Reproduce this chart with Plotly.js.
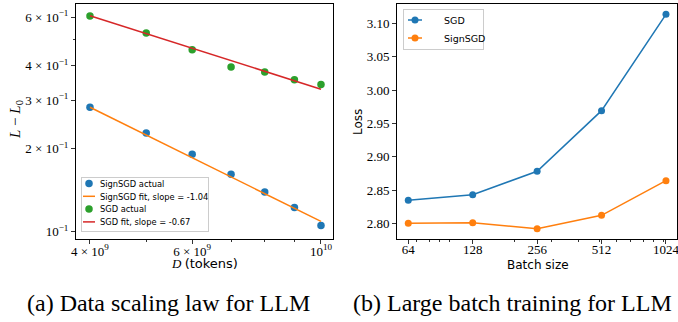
<!DOCTYPE html>
<html>
<head>
<meta charset="utf-8">
<script src="https://cdn.plot.ly/plotly-3.0.1.min.js"></script>
<style>html,body{margin:0;padding:0;background:#fff;}#chart{width:678px;height:322px;}</style>
</head>
<body>
<div id="chart"></div>
<script>
// ---- data: (a) data scaling law ----
const tokens = [4e9, 5e9, 6e9, 7e9, 8e9, 9e9, 1e10];
const signsgdActual = [0.283, 0.228, 0.191, 0.1616, 0.1393, 0.1223, 0.1054];
const sgdActual = [0.607, 0.526, 0.458, 0.396, 0.380, 0.356, 0.342];
const fitTokens = [4e9, 1e10];
const signsgdFit = [0.283, 0.109];
const sgdFit = [0.608, 0.329];
const tokTickVals = [4e9, 6e9, 1e10];
const tokTickText = ["4 × 10<sup>9</sup>", "6 × 10<sup>9</sup>", "10<sup>10</sup>"];
const tokMinor = [5e9, 7e9, 8e9, 9e9];
const lossTickVals = [0.1, 0.2, 0.3, 0.4, 0.6];
const lossTickText = ["10<sup>−1</sup>", "2 × 10<sup>−1</sup>", "3 × 10<sup>−1</sup>", "4 × 10<sup>−1</sup>", "6 × 10<sup>−1</sup>"];
const lossMinor = [0.5];

// ---- data: (b) large batch training ----
const batch = [64, 128, 256, 512, 1024];
const sgdLoss = [2.8345, 2.843, 2.878, 2.969, 3.1135];
const signsgdLoss = [2.800, 2.801, 2.792, 2.812, 2.864];
const batchTickText = ["64", "128", "256", "512", "1024"];
const batchMinor = [70, 80, 90, 100, 200, 300, 400, 500, 600, 700, 800, 900, 1000];
const batchLossTicks = [2.80, 2.85, 2.90, 2.95, 3.00, 3.05, 3.10];

const W = 678, H = 322;
const px = x => x / W;
const py = y => 1 - y / H;

const BLUE = '#1f77b4', ORANGE = '#ff7f0e', GREEN = '#2ca02c', RED = '#d62728';
const SERIF = 'Liberation Serif, Times New Roman, serif';
const SANS = 'DejaVu Sans, sans-serif';

const traces = [
  {x: tokens, y: signsgdActual, mode: 'markers', name: 'SignSGD actual',
   marker: {color: BLUE, size: 7.5}, xaxis: 'x', yaxis: 'y', legend: 'legend'},
  {x: fitTokens, y: signsgdFit, mode: 'lines', name: 'SignSGD fit, slope = -1.04',
   line: {color: ORANGE, width: 1.5}, xaxis: 'x', yaxis: 'y', legend: 'legend'},
  {x: tokens, y: sgdActual, mode: 'markers', name: 'SGD actual',
   marker: {color: GREEN, size: 7.5}, xaxis: 'x', yaxis: 'y', legend: 'legend'},
  {x: fitTokens, y: sgdFit, mode: 'lines', name: 'SGD fit, slope = -0.67',
   line: {color: RED, width: 1.5}, xaxis: 'x', yaxis: 'y', legend: 'legend'},
  {x: batch, y: sgdLoss, mode: 'lines+markers', name: 'SGD',
   line: {color: BLUE, width: 1.5}, marker: {color: BLUE, size: 7},
   xaxis: 'x2', yaxis: 'y2', legend: 'legend2'},
  {x: batch, y: signsgdLoss, mode: 'lines+markers', name: 'SignSGD',
   line: {color: ORANGE, width: 1.5}, marker: {color: ORANGE, size: 7},
   xaxis: 'x2', yaxis: 'y2', legend: 'legend2'}
];

const axisCommon = {
  showgrid: false, zeroline: false, showline: true, mirror: true,
  linecolor: '#000', linewidth: 1, ticks: 'outside', ticklen: 4, tickwidth: 0.8,
  tickcolor: '#000', tickfont: {family: SERIF, size: 13, color: '#000'},
  ticklabeloverflow: 'allow'
};

const layout = {
  width: W, height: H,
  margin: {l: 0, r: 0, t: 0, b: 0},
  paper_bgcolor: '#fff', plot_bgcolor: '#fff',
  showlegend: true,
  xaxis: Object.assign({}, axisCommon, {
    domain: [px(76), px(333)], anchor: 'y', type: 'log',
    range: [9.578, 10.0207], ticklabelstandoff: -4,
    tickmode: 'array', tickvals: tokTickVals, ticktext: tokTickText,
    minor: {tickmode: 'array', tickvals: tokMinor, ticklen: 2, ticks: 'outside', tickcolor: '#000'}
  }),
  yaxis: Object.assign({}, axisCommon, {
    domain: [py(239), py(4)], anchor: 'x', type: 'log',
    range: [-1.0265, -0.1735],
    tickmode: 'array', tickvals: lossTickVals, ticktext: lossTickText,
    minor: {tickmode: 'array', tickvals: lossMinor, ticklen: 2, ticks: 'outside', tickcolor: '#000'}
  }),
  xaxis2: Object.assign({}, axisCommon, {
    domain: [px(397), px(677)], anchor: 'y2', type: 'log',
    range: [1.7535, 3.0618], ticklabelstandoff: -6,
    tickmode: 'array', tickvals: batch, ticktext: batchTickText,
    minor: {tickmode: 'array', tickvals: batchMinor, ticklen: 2, ticks: 'outside', tickcolor: '#000'}
  }),
  yaxis2: Object.assign({}, axisCommon, {
    domain: [py(239), py(4)], anchor: 'x2',
    range: [2.7765, 3.129],
    tickmode: 'array', tickvals: batchLossTicks,
    ticktext: batchLossTicks.map(v => v.toFixed(2))
  }),
  legend: {
    x: px(81), y: py(177), xanchor: 'left', yanchor: 'top',
    bgcolor: 'rgba(255,255,255,0.8)', bordercolor: '#cccccc', borderwidth: 1,
    font: {family: SANS, size: 8.3, color: '#000'}
  },
  legend2: {
    x: px(403), y: py(9), xanchor: 'left', yanchor: 'top',
    bgcolor: 'rgba(255,255,255,0.8)', bordercolor: '#cccccc', borderwidth: 1,
    font: {family: SANS, size: 9.5, color: '#000'}
  },
  annotations: [
    {text: '<i>L</i> − <i>L</i><sub>0</sub>', x: px(16), y: py(120), xref: 'paper', yref: 'paper',
     xanchor: 'center', yanchor: 'middle',
     showarrow: false, textangle: -90, font: {family: SERIF, size: 15, color: '#000'}},
    {text: '<i>D</i> <span style="font-family:DejaVu Sans">(tokens)</span>', x: px(204), y: py(263), xref: 'paper', yref: 'paper',
     xanchor: 'center', yanchor: 'middle',
     showarrow: false, font: {family: SERIF, size: 13, color: '#000'}},
    {text: 'Loss', x: px(358), y: py(122), xref: 'paper', yref: 'paper',
     xanchor: 'center', yanchor: 'middle',
     showarrow: false, textangle: -90, font: {family: SANS, size: 12, color: '#000'}},
    {text: 'Batch size', x: px(538), y: py(265), xref: 'paper', yref: 'paper',
     xanchor: 'center', yanchor: 'middle',
     showarrow: false, font: {family: SANS, size: 12, color: '#000'}},
    {text: '(a) Data scaling law for LLM', x: px(168), y: py(303), xref: 'paper', yref: 'paper',
     xanchor: 'center', yanchor: 'middle',
     showarrow: false, font: {family: SERIF, size: 24, color: '#000'}},
    {text: '(b) Large batch training for LLM', x: px(512), y: py(303), xref: 'paper', yref: 'paper',
     xanchor: 'center', yanchor: 'middle',
     showarrow: false, font: {family: SERIF, size: 24, color: '#000'}}
  ]
};

// compact (matplotlib-like) legend geometry, keyed by legend id
const legendSpecs = {
  legend:  {left: 81,  top: 177, width: 127, height: 54, first: 6.5, step: 12.8, symX: 7,  lineLen: 12, textX: 18},
  legend2: {left: 403, top: 9,   width: 80,  height: 40, first: 11,  step: 18,   symX: 11, lineLen: 14, textX: 28}
};

function compactOne(lg, o) {
  lg.setAttribute('transform', `translate(${o.left},${o.top})`);
  const bg = lg.querySelector(':scope > rect.bg');
  if (bg) { bg.setAttribute('width', o.width); bg.setAttribute('height', o.height); }
  const sb = lg.querySelector(':scope > g.scrollbox');
  if (sb) sb.setAttribute('transform', 'translate(0,0)');
  lg.querySelectorAll('g.traces').forEach((it, i) => {
    it.setAttribute('transform', `translate(1,${o.first + i * o.step})`);
    const t = it.querySelector('text.legendtext');
    if (t) {
      t.setAttribute('x', o.textX);
      t.querySelectorAll('tspan').forEach(s => { if (s.hasAttribute('x')) s.setAttribute('x', o.textX); });
    }
    it.querySelectorAll('g.legendlines path').forEach(p => {
      p.setAttribute('d', `M${o.symX - o.lineLen / 2},0h${o.lineLen}`);
    });
    it.querySelectorAll('g.legendpoints path').forEach(p => {
      p.setAttribute('transform', `translate(${o.symX},0)`);
    });
  });
}

function compactLegends() {
  const gd = document.getElementById('chart');
  gd.querySelectorAll('rect.bg').forEach(bg => {
    const lg = bg.parentNode;
    const cls = (lg.getAttribute('class') || '').trim();
    const o = legendSpecs[cls];
    if (!o) return;
    try { compactOne(lg, o); } catch (e) { console.error(e); }
  });
}

const gdEl = document.getElementById('chart');
const obsOpts = {subtree: true, childList: true, attributes: true, characterData: true};
const obs = new MutationObserver(() => {
  obs.disconnect();
  compactLegends();
  obs.observe(gdEl, obsOpts);
});

Plotly.newPlot(gdEl, traces, layout, {displayModeBar: false, staticPlot: true}).then(() => {
  compactLegends();
  obs.observe(gdEl, obsOpts);
  requestAnimationFrame(compactLegends);
  setTimeout(compactLegends, 50);
  setTimeout(compactLegends, 300);
});
</script>
</body>
</html>
